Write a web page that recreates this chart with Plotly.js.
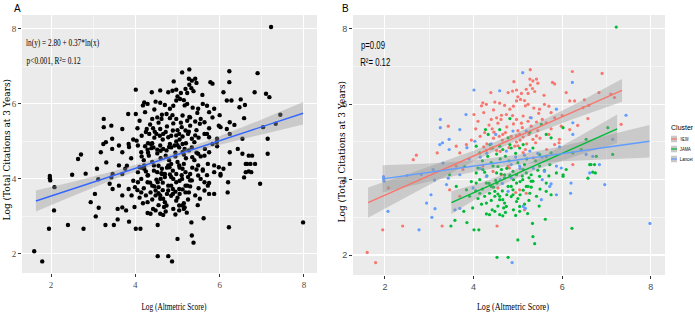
<!DOCTYPE html>
<html><head><meta charset="utf-8">
<script src="https://cdn.plot.ly/plotly-3.0.1.min.js"></script>
<style>html,body{margin:0;padding:0;background:#fff}#chart{width:695px;height:315px}</style>
</head><body><div id="chart"></div>
<script>
// ---------- data ----------
const nejmX=[5.28,6.23,6.9,5.27,5.34,5.42,5.45,5.28,5.33,5.38,5.23,4.91,5.78,5.83,4.39,4.78,4.88,4.97,5.08,5.19,5.59,6.09,6.83,7.1,7.18,4.21,4.18,4.29,4.48,4.59,4.7,4.82,4.97,5.06,5.15,5.17,5.23,5.36,5.49,5.47,5.75,6.17,6.28,6.47,6.6,4.01,4.23,4.4,4.52,4.63,4.74,4.97,5.12,5.23,5.42,5.64,5.83,5.98,6.17,6.35,6.58,7.33,3.43,4.46,4.66,4.97,5.04,5.12,5.34,5.42,5.94,5.93,2.64,2.71,3.18,3.61,3.69,3.84,4.23,4.29,4.52,4.93,4.97,5.17,5.83,3.61,3.76,4.78,2.08,3.46,3.69,1.95,2.4,3.29,4.53,5.15,1.6,1.79,4.21,4.44,4.63,4.81,5.04,5.19,4.55,4.95,6.24,4.35,4.55,4.75,4.9,5.1,5.3,5.45,4.45,4.65,4.85,5.05,5.25,5.5,4.3,4.6,4.8,5.0,5.2,5.4,5.65,4.15,4.05,3.95,5.75,5.0,6.5,4.25,4.42,4.62,4.88,5.08,5.28,5.55,5.7,4.72,4.38,4.58,5.12,5.35,4.9,5.6,4.1,4.45,5.0,5.7,6.0];
const nejmY=[6.92,6.87,6.82,6.67,6.62,6.67,6.56,6.51,6.42,6.34,6.29,6.6,6.58,6.54,6.31,6.31,6.35,6.38,6.29,6.4,6.24,6.31,6.31,6.27,6.18,6.04,5.96,6.0,6.06,6.03,5.97,5.87,6.09,6.13,6.1,5.96,6.0,5.9,5.87,5.76,5.78,6.09,6.09,5.91,5.97,5.73,5.78,5.6,5.64,5.71,5.73,5.6,5.69,5.55,5.53,5.51,5.64,5.42,5.33,5.44,5.62,5.47,5.42,5.26,5.2,5.16,5.2,5.13,5.07,5.16,5.07,4.98,4.53,4.65,4.71,4.89,4.71,4.93,4.87,4.78,4.78,4.89,5.0,4.8,4.93,4.36,4.27,4.36,3.78,3.73,3.56,2.67,2.77,2.77,2.77,3.2,2.07,1.8,4.36,4.22,4.13,4.31,3.73,3.64,3.78,3.66,4.4,5.45,5.5,5.4,5.48,5.38,5.42,5.3,5.1,5.05,5.15,5.05,5.2,5.1,4.95,4.75,4.85,4.9,4.95,4.98,4.8,5.15,5.35,5.05,5.35,5.3,6.12,5.25,5.35,5.6,5.7,5.5,5.65,5.6,5.2,5.25,4.82,5.15,4.72,4.58,5.95,6.0,5.55,5.85,6.2,5.95,5.7];

const jamaX=[7.22,4.82,5.53,4.27,4.33,4.59,4.78,5.27,5.64,5.75,6.02,6.54,7.03,4.06,4.14,4.37,4.43,4.59,4.66,4.82,4.85,5.04,5.12,5.34,5.49,5.64,5.75,6.24,6.43,6.77,3.46,4.06,4.1,4.21,4.44,4.52,4.63,4.7,4.89,4.97,5.12,5.19,5.3,5.49,5.72,6.02,6.65,6.75,3.61,3.84,3.91,4.06,4.14,4.25,4.29,4.4,4.48,4.53,4.59,4.66,4.74,4.85,4.89,4.97,5.04,5.19,5.27,5.3,5.42,5.64,3.49,3.58,3.78,3.85,4.01,4.12,4.29,4.36,4.48,4.59,4.66,4.72,5.04,5.33,5.34,5.38,5.0,5.62,6.22,4.53,4.78,4.14,4.29,4.36,4.48,4.59,4.7,4.78,4.89,4.97,5.11,5.23,5.34,5.49,5.64,5.75,5.87,6.02,6.09,6.62,6.73,6.58,6.69,7.14,4.2,4.4,4.6,4.8,5.0,5.2,5.4,4.3,4.5,4.7,4.9,5.1,5.3,4.2,4.45,4.65,4.85,5.05,5.25,4.4,4.55,4.9,5.15,3.95,4.1,5.5,5.6,3.8,4.75,4.55,4.32,4.52,4.72,4.95,5.15,5.45,4.25,4.62,4.82,5.05,5.25,4.35,4.55,4.75,5.0,5.12,4.18,4.42,4.68,4.95,5.22,5.48,3.98,4.05,5.7];
const jamaY=[8.05,5.62,5.47,5.33,5.2,5.33,5.11,5.26,5.2,5.11,5.38,5.07,5.38,4.89,4.71,4.93,4.84,4.89,4.8,4.93,4.84,4.84,4.93,4.84,4.67,4.62,4.71,4.71,4.8,4.62,4.13,4.18,4.31,4.27,4.36,4.18,4.27,4.13,4.22,4.13,4.27,4.18,4.13,4.36,4.4,4.13,4.4,4.18,3.82,3.73,3.56,3.91,3.64,3.56,3.38,3.82,3.69,3.91,3.56,3.47,3.29,3.82,3.6,3.42,3.29,3.82,3.64,3.96,3.56,3.69,2.77,2.92,3.16,2.86,2.67,2.67,3.09,3.07,3.16,3.07,3.04,3.13,3.16,2.84,2.49,2.3,2.4,2.95,2.71,1.94,1.94,4.0,3.91,3.64,3.56,3.47,3.38,3.82,3.73,3.91,4.0,3.82,3.96,4.09,3.91,3.6,4.18,4.09,4.27,4.4,4.4,4.04,4.2,4.67,4.5,4.45,4.55,4.5,4.45,4.55,4.5,4.1,3.98,4.05,4.0,4.1,3.8,3.75,3.8,3.7,3.55,3.6,3.45,3.45,3.3,3.2,3.35,3.95,3.5,3.75,4.25,4.35,4.3,4.35,4.62,4.68,4.62,4.7,4.4,4.25,4.2,4.15,4.12,3.95,4.05,3.9,3.62,3.6,3.5,3.72,3.35,3.2,3.25,3.05,3.1,3.3,3.25,3.7,4.1];

const lancetX=[5.11,6.23,4.01,4.59,5.87,7.44,3.83,5.3,6.24,3.25,3.25,3.45,3.69,4.89,5.19,6.24,7.14,3.24,3.3,3.45,4.03,4.74,5.27,5.94,6.54,6.69,3.09,3.31,3.69,3.43,4.29,5.04,5.6,5.87,5.98,6.62,6.84,1.97,1.97,1.98,2.94,3.04,3.39,3.99,4.78,5.12,5.53,5.72,5.75,5.87,6.19,6.96,2.77,2.07,3.13,3.06,5.17,3.58,3.69,6.2,4.87,7.98,2.5,2.82,3.12,4.3,4.5,4.95,5.15,4.65,5.35,4.15,3.9,5.55,4.85,4.4,4.85,5.45,4.15,3.85,5.55,4.6,5.05];
const lancetY=[6.84,6.58,6.38,6.36,5.87,5.71,5.73,5.64,5.51,5.6,5.38,5.07,5.33,5.29,5.29,5.2,5.07,4.93,4.98,4.8,5.02,4.76,4.76,4.87,4.67,4.62,4.27,4.44,4.13,4.04,4.09,4.36,4.22,4.36,4.31,4.18,4.4,4.08,4.02,3.96,3.38,3.6,3.87,3.78,3.69,3.29,3.47,3.82,3.89,3.6,3.64,3.87,2.67,3.16,3.23,3.0,3.24,3.2,3.24,3.91,1.8,2.84,4.11,4.14,3.99,4.7,5.2,4.6,4.65,3.9,4.3,4.3,4.55,4.6,4.05,4.95,4.4,4.7,4.6,4.85,4.0,4.0,4.3];

const clusterNames=['NEJM','JAMA','Lancet'];
const clusterColors=['#F8766D','#00BA38','#619CFF'];
const tickValues=[2,4,6,8];
const tickLabels=['2','4','6','8'];

// fitted lines and confidence half-widths
const allFitX=[1.64,2.5,3.5,4.7,5.8,6.9,7.98];
const allFitY=[3.41,3.73,4.10,4.54,4.95,5.35,5.75];
const allFitHalf=[0.28,0.19,0.11,0.07,0.1,0.19,0.3];
const nejmFitX=[1.62,2.8,4.0,5.0,6.2,7.35];
const nejmFitY=[3.39,4.0,4.63,5.15,5.77,6.37];
const nejmFitHalf=[0.4,0.26,0.14,0.1,0.18,0.3];
const jamaFitX=[3.5,4.2,4.8,5.5,6.4,7.24];
const jamaFitY=[3.39,3.76,4.07,4.44,4.91,5.35];
const jamaFitHalf=[0.3,0.17,0.12,0.14,0.25,0.38];
const lancetFitX=[1.95,3.0,4.0,5.0,6.0,7.0,7.97];
const lancetFitY=[4.02,4.19,4.36,4.53,4.69,4.86,5.02];
const lancetFitHalf=[0.36,0.24,0.15,0.13,0.2,0.31,0.43];

const panelLabels=['A','B'];
const xTitle='Log (Altmetric Score)';
const yTitle='Log (Total Citations at 3 Years)';
const eqLine1='ln(y) = 2.80 + 0.37*ln(x)';
const eqLine2='p<0.001, R²= 0.12';
const bLine1='p=0.09';
const bLine2='R²= 0.12';
const legendTitle='Cluster';

// ---------- drawing ----------
const W=695,H=315;
const px=v=>v/W, py=v=>1-v/H;
const BAND='rgba(153,153,153,0.4)';

function band(xs,ys,half,xa,ya){
  const up=ys.map((v,i)=>v+half[i]);
  const lo=ys.map((v,i)=>v-half[i]);
  return {x:xs.concat(xs.slice().reverse()),y:up.concat(lo.slice().reverse()),
    mode:'lines',fill:'toself',fillcolor:BAND,line:{width:0,color:'rgba(0,0,0,0)'},
    xaxis:xa,yaxis:ya,hoverinfo:'skip',showlegend:false};
}
function fitLine(xs,ys,color,xa,ya){
  return {x:xs,y:ys,mode:'lines',line:{color:color,width:1.4},xaxis:xa,yaxis:ya,hoverinfo:'skip',showlegend:false};
}

const traces=[];
traces.push({x:nejmX.concat(jamaX,lancetX),y:nejmY.concat(jamaY,lancetY),mode:'markers',
  marker:{color:'#000',size:4.4},xaxis:'x',yaxis:'y',showlegend:false,hoverinfo:'skip'});
traces.push(band(allFitX,allFitY,allFitHalf,'x','y'));
traces.push(fitLine(allFitX,allFitY,'#3366FF','x','y'));

const clX=[nejmX,jamaX,lancetX], clY=[nejmY,jamaY,lancetY];
clX.forEach((xs,i)=>traces.push({x:xs,y:clY[i],mode:'markers',marker:{color:clusterColors[i],size:3.2},
  xaxis:'x2',yaxis:'y2',showlegend:false,hoverinfo:'skip'}));
const fX=[nejmFitX,jamaFitX,lancetFitX], fY=[nejmFitY,jamaFitY,lancetFitY], fH=[nejmFitHalf,jamaFitHalf,lancetFitHalf];
fX.forEach((xs,i)=>traces.push(band(xs,fY[i],fH[i],'x2','y2')));
fX.forEach((xs,i)=>traces.push(fitLine(xs,fY[i],clusterColors[i],'x2','y2')));

function xax(dom,rng,fam){
  return {domain:dom,range:rng,tickvals:tickValues,ticktext:tickLabels,showgrid:true,gridcolor:'#fff',gridwidth:1.1,
    minor:{dtick:1,tick0:0,showgrid:true,gridcolor:'#fff',gridwidth:0.5,ticks:''},
    zeroline:false,showline:false,ticks:'outside',ticklen:3,tickwidth:1,tickcolor:'#333',
    tickfont:{family:fam,size:9,color:'#4D4D4D'},fixedrange:true};
}
const layout={
  width:W,height:H,margin:{l:0,r:0,t:0,b:0},paper_bgcolor:'#fff',plot_bgcolor:'#EBEBEB',showlegend:false,
  xaxis:Object.assign(xax([px(22),px(317)],[1.31,8.31],'Liberation Serif'),{anchor:'y'}),
  yaxis:Object.assign(xax([py(273),py(15)],[1.49,8.37],'Liberation Serif'),{anchor:'x'}),
  xaxis2:Object.assign(xax([px(353),px(665)],[1.28,8.32],'Liberation Sans'),{anchor:'y2'}),
  yaxis2:Object.assign(xax([py(275),py(15)],[1.47,8.37],'Liberation Sans'),{anchor:'x2'}),
  annotations:[],shapes:[]
};
const squeeze=[];
function ann(text,cx,cy,fam,size,w,extra){
  layout.annotations.push(Object.assign({text:text,x:px(cx),y:py(cy),xref:'paper',yref:'paper',showarrow:false,
    xanchor:'center',yanchor:'middle',font:{family:fam,size:size,color:'#000'}},extra||{}));
  squeeze.push(w||0);
}
ann(panelLabels[0],17,8,'Liberation Sans',10,0);
ann(panelLabels[1],345,8,'Liberation Sans',10,0);
ann(eqLine1,62.5,43,'Liberation Serif',10.5,73);
ann(eqLine2,53,60,'Liberation Serif',10.5,54);
ann(xTitle,174,306,'Liberation Serif',11,65);
ann(xTitle,513,306,'Liberation Serif',11,72);
ann(yTitle,6.5,150,'DejaVu Serif',9,0,{textangle:-90});
ann(yTitle,341.5,152,'DejaVu Serif',9,0,{textangle:-90});
ann(bLine1,373,45,'Liberation Sans',11,24);
ann(bLine2,375.5,62,'Liberation Sans',11,30);
ann(legendTitle,682,127,'Liberation Sans',7,22);
const legY=[139,149,159], legW=[8,11,13];
clusterNames.forEach((n,i)=>{
  ann(n,680+legW[i]/2,legY[i],'Liberation Sans',5.5,legW[i]);
  layout.shapes.push({type:'rect',xref:'paper',yref:'paper',x0:px(671),x1:px(677),y0:py(legY[i]+3.3),y1:py(legY[i]-3.3),
    fillcolor:'#C9C9C9',line:{width:0}});
  layout.shapes.push({type:'line',xref:'paper',yref:'paper',x0:px(671),x1:px(677),y0:py(legY[i]),y1:py(legY[i]),
    line:{color:clusterColors[i],width:1.2}});
});

Plotly.newPlot('chart',traces,layout,{displayModeBar:false,staticPlot:true}).then(gd=>{
  gd.querySelectorAll('.annotation').forEach(g=>{
    const i=+g.getAttribute('data-index');
    const w=squeeze[i];
    if(!w) return;
    const t=g.querySelector('text.annotation-text');
    if(t){t.setAttribute('textLength',w);t.setAttribute('lengthAdjust','spacingAndGlyphs');}
  });
});
</script></body></html>
